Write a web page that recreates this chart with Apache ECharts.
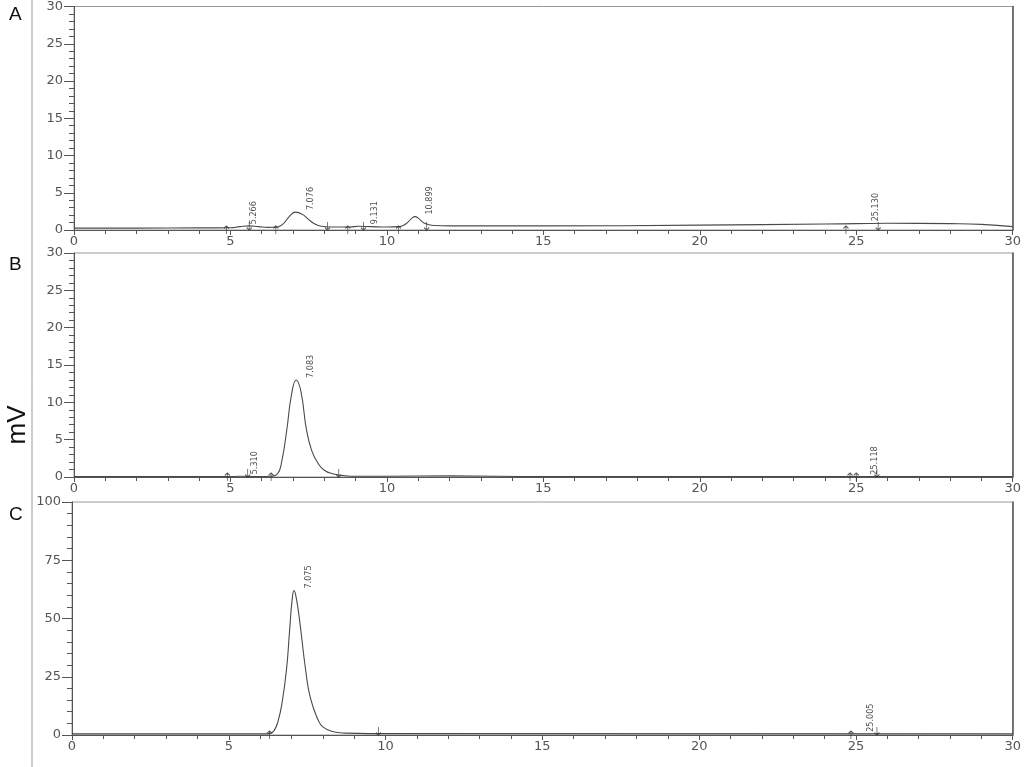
<!DOCTYPE html>
<html><head><meta charset="utf-8">
<script src="https://cdn.jsdelivr.net/npm/echarts@6/dist/echarts.min.js"></script>
<style>html,body{margin:0;padding:0;background:#fff}#c{width:1024px;height:767px}</style>
</head><body><div id="c"></div>
<script>
// ---- Panel A data (retention time, min ; signal, mV) ----
const timesA  = [0, 2, 4, 5, 5.3, 5.6, 5.9, 6.2, 6.5, 6.7, 6.9, 7.08, 7.3, 7.5, 7.7, 7.9, 8.2, 8.8, 9.1, 9.5, 10.0, 10.4, 10.6, 10.8, 10.9, 11.0, 11.2, 11.5, 12, 15, 20, 24, 25, 26, 28, 29, 30];
const valuesA = [0.25, 0.25, 0.28, 0.3, 0.45, 0.55, 0.45, 0.35, 0.4, 0.9, 1.9, 2.4, 2.1, 1.4, 0.8, 0.5, 0.4, 0.4, 0.5, 0.45, 0.4, 0.45, 0.8, 1.6, 1.8, 1.6, 0.9, 0.6, 0.55, 0.55, 0.65, 0.8, 0.85, 0.9, 0.85, 0.75, 0.45];
const peakTimesA   = [5.266, 7.076, 9.131, 10.899, 25.130];
const peakHeightsA = [0.5, 2.4, 0.5, 1.8, 0.9];
const upMarksA   = [4.87, 6.45, 8.75, 10.37, 24.67];
const downMarksA = [5.6, 8.1, 9.25, 11.27, 25.7];

// ---- Panel B data ----
const timesB  = [0, 5, 5.3, 6, 6.3, 6.5, 6.63, 6.8, 6.95, 7.1, 7.25, 7.43, 7.6, 7.79, 8.0, 8.3, 8.6, 9, 10, 12, 15, 30];
const valuesB = [0.05, 0.05, 0.1, 0.05, 0.1, 0.4, 1.9, 6.3, 11, 13, 11.5, 6.3, 3.5, 1.9, 0.9, 0.4, 0.2, 0.1, 0.1, 0.15, 0.05, 0.05];
const peakTimesB   = [5.310, 7.083, 25.118];
const peakHeightsB = [0.1, 13, 0.05];
const upMarksB   = [4.9, 6.3, 24.8, 25.0];
const downMarksB = [5.55, 8.46, 25.66];

// ---- Panel C data ----
const timesC  = [0, 6, 6.3, 6.45, 6.58, 6.7, 6.84, 6.94, 7.02, 7.08, 7.15, 7.26, 7.45, 7.6, 7.85, 8.0, 8.3, 8.7, 9.5, 30];
const valuesC = [0.5, 0.5, 0.6, 2, 6.4, 14, 28, 45, 58, 62, 59, 49, 28, 16, 6.4, 3.5, 1.5, 0.8, 0.6, 0.5];
const peakTimesC   = [7.075, 25.005];
const peakHeightsC = [62, 0.5];
const upMarksC   = [6.3, 24.84];
const downMarksC = [9.77, 25.67];

// ---- axis ticks ----
const xTicks = {min: 0, max: 30, interval: 5};
const yTicksAB = {min: 0, max: 30, interval: 5};
const yTicksC = {min: 0, max: 100, interval: 25};

const zip = (t, v) => t.map((x, i) => [x, v[i]]);
const labelFont = "'DejaVu Sans', sans-serif";
const grids = [
  {left: 74, right: 8, top: 6, height: 224},
  {left: 74, right: 8, top: 253, height: 224},
  {left: 72, right: 7, top: 502, height: 233}
];
const xAxes = grids.map((g, i) => ({
  type: 'value', gridIndex: i, min: xTicks.min, max: xTicks.max, interval: xTicks.interval,
  axisLine: {show: true, lineStyle: {color: '#555', width: 1}},
  axisTick: {show: true, inside: false, length: 5, lineStyle: {color: '#555'}},
  minorTick: {show: true, splitNumber: 5, length: 4, lineStyle: {color: '#555'}},
  splitLine: {show: false},
  axisLabel: {color: '#555', fontFamily: labelFont, fontSize: 13, margin: 5}
}));
const yLeft = [yTicksAB, yTicksAB, yTicksC].map((yt, i) => ({
  type: 'value', gridIndex: i, min: yt.min, max: yt.max, interval: yt.interval, position: 'left',
  axisLine: {show: true, lineStyle: {color: '#555', width: 1}},
  axisTick: {show: true, length: 10, lineStyle: {color: '#555'}},
  minorTick: {show: true, splitNumber: 5, length: 5, lineStyle: {color: '#555'}},
  splitLine: {show: false},
  axisLabel: {color: '#555', fontFamily: labelFont, fontSize: 13, margin: 11}
}));
const yRight = [yTicksAB, yTicksAB, yTicksC].map((yt, i) => ({
  type: 'value', gridIndex: i, min: yt.min, max: yt.max, position: 'right',
  axisLine: {show: true, lineStyle: {color: '#555', width: 1.5}},
  axisTick: {show: false}, axisLabel: {show: false}, splitLine: {show: false}
}));

const lineSeries = (idx, t, v) => ({
  type: 'line', xAxisIndex: idx, yAxisIndex: idx, data: zip(t, v),
  showSymbol: false, smooth: 0.5,
  lineStyle: {color: '#4a4a4a', width: 1.1}, silent: true, z: 3
});
const peakLabels = (idx, t, h) => ({
  type: 'scatter', xAxisIndex: idx, yAxisIndex: idx, data: zip(t, h), symbolSize: 0, silent: true, z: 5,
  label: {show: true, formatter: p => p.value[0].toFixed(3), rotate: 90, position: [15, -2],
    align: 'left', verticalAlign: 'middle', fontFamily: "'Liberation Sans Narrow', 'DejaVu Sans Condensed', sans-serif",
    fontSize: 9, color: '#222'}
});
const upPath = 'path://M3,0 L3,10 M0,3 L3,0 L6,3';
const downPath = 'path://M3,0 L3,10 M0,7 L3,10 L6,7';
const marks = (idx, t, up) => ({
  type: 'scatter', xAxisIndex: idx, yAxisIndex: idx, data: t.map(x => [x, 0]), silent: true, z: 4,
  symbol: up ? upPath : downPath, symbolSize: [5, 8], symbolOffset: up ? [0, 0] : [0, -4],
  itemStyle: {color: 'transparent', borderColor: '#333', borderWidth: 1}
});

const chart = echarts.init(document.getElementById('c'), null, {renderer: 'canvas'});
chart.setOption({
  backgroundColor: '#fff',
  animation: false,
  grid: grids.map(g => Object.assign({show: true, borderColor: '#999', borderWidth: 1}, g)),
  xAxis: xAxes,
  yAxis: yLeft.concat(yRight),
  series: [
    lineSeries(0, timesA, valuesA), peakLabels(0, peakTimesA, peakHeightsA), marks(0, upMarksA, true), marks(0, downMarksA, false),
    lineSeries(1, timesB, valuesB), peakLabels(1, peakTimesB, peakHeightsB), marks(1, upMarksB, true), marks(1, downMarksB, false),
    lineSeries(2, timesC, valuesC), peakLabels(2, peakTimesC, peakHeightsC), marks(2, upMarksC, true), marks(2, downMarksC, false)
  ],
  graphic: [
    {type: 'line', shape: {x1: 32, y1: 0, x2: 32, y2: 767}, style: {stroke: '#999', lineWidth: 1}},
    {type: 'text', left: 9, top: 5, style: {text: 'A', font: "19px 'Liberation Sans', sans-serif", fill: '#111'}},
    {type: 'text', left: 9, top: 255, style: {text: 'B', font: "19px 'Liberation Sans', sans-serif", fill: '#111'}},
    {type: 'text', left: 9, top: 505, style: {text: 'C', font: "19px 'Liberation Sans', sans-serif", fill: '#111'}},
    {type: 'text', x: 18, y: 425, rotation: Math.PI / 2,
      style: {text: 'mV', font: "26px 'Liberation Sans', sans-serif", fill: '#111', align: 'center', verticalAlign: 'middle'}}
  ]
});
</script></body></html>
